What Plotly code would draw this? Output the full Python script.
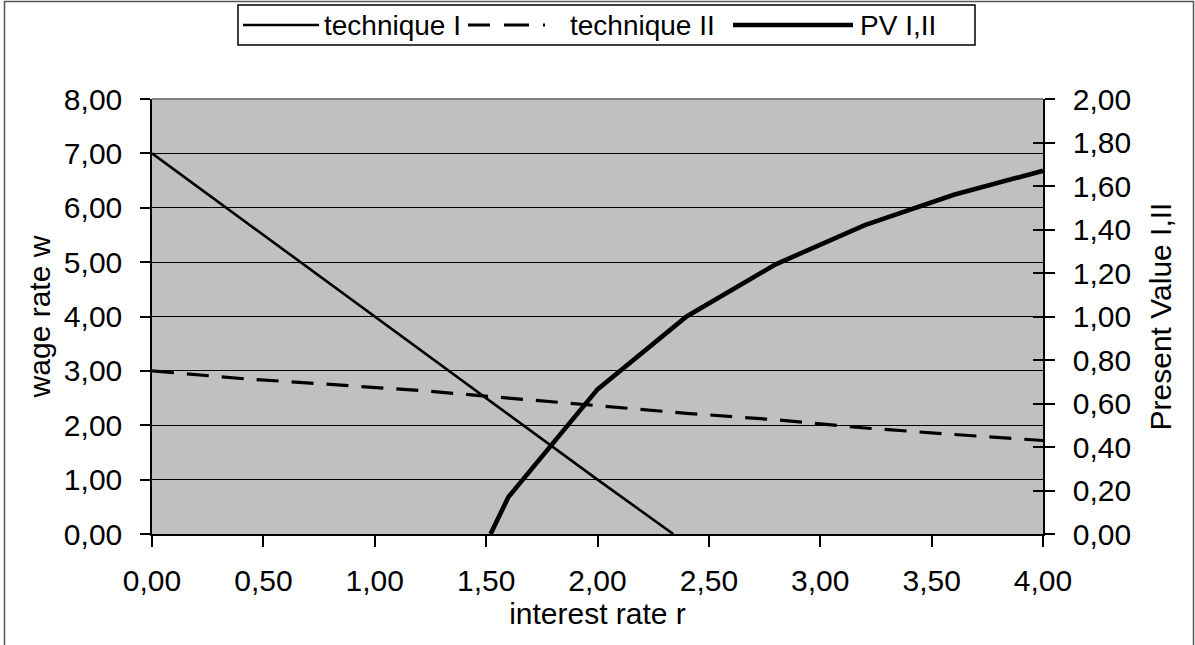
import plotly.graph_objects as go

# data
r_I = [0.0, 0.4, 0.8, 1.2, 1.6, 2.0, 2.34]
w_I = [7.0, 5.8, 4.6, 3.4, 2.2, 1.0, 0.0]

r_II = [0.0, 0.4, 0.8, 1.2, 1.6, 2.0, 2.4, 2.8, 3.2, 3.6, 4.0]
w_II = [3.0, 2.86, 2.75, 2.64, 2.5, 2.36, 2.22, 2.1, 1.95, 1.83, 1.72]

r_PV = [1.52, 1.6, 2.0, 2.4, 2.8, 3.2, 3.6, 4.0]
pv = [0.0, 0.17, 0.665, 1.0, 1.24, 1.42, 1.56, 1.67]

series_names = ["technique I", "technique II", "PV I,II"]

FONT = "Liberation Sans, Arial, sans-serif"
FS = 30
LEG_FS = 28
DASH = "22px,13px"
WIDTHS = [2.6, 3.2, 4.6]

fig = go.Figure()
fig.add_trace(go.Scatter(x=r_I, y=w_I, mode="lines", name=series_names[0],
                         line=dict(color="black", width=WIDTHS[0])))
fig.add_trace(go.Scatter(x=r_II, y=w_II, mode="lines", name=series_names[1],
                         line=dict(color="black", width=WIDTHS[1], dash=DASH)))
fig.add_trace(go.Scatter(x=r_PV, y=pv, mode="lines", name=series_names[2], yaxis="y2",
                         line=dict(color="black", width=WIDTHS[2])))

W, H = 1195, 645
L, R, T, B = 152, 152, 99, 111
pw, ph = W - L - R, H - T - B


def px(x):
    return (x - L) / pw


def py(y):
    return (H - B - y) / ph


# legend drawn by hand (Excel-style long samples)
leg_y = 25
leg_samples = [(243, 319, "solid"), (468, 556, "22px,14px,25px,14px,2px,100px"), (733, 853, "solid")]
leg_text_x = [322, 568, 858]

shapes = [
    dict(type="rect", xref="paper", yref="paper",
         x0=px(4.5), x1=px(1193.5), y0=py(660), y1=py(1.5),
         line=dict(color="#555555", width=1.5), fillcolor="rgba(0,0,0,0)", layer="below"),
    dict(type="line", xref="paper", yref="paper", x0=0, x1=1, y0=1, y1=1,
         line=dict(color="#808080", width=2)),
    dict(type="rect", xref="paper", yref="paper",
         x0=px(238), x1=px(975), y0=py(45), y1=py(5),
         line=dict(color="black", width=1.5), fillcolor="white"),
]
annotations = []
for (x0, x1, d), wdt, tx, name in zip(leg_samples, WIDTHS, leg_text_x, series_names):
    shapes.append(dict(type="line", xref="paper", yref="paper",
                       x0=px(x0), x1=px(x1), y0=py(leg_y), y1=py(leg_y),
                       line=dict(color="black", width=wdt, dash=d)))
    annotations.append(dict(text=name, xref="paper", yref="paper", x=px(tx), y=py(leg_y + 1),
                            xanchor="left", yanchor="middle", showarrow=False,
                            font=dict(size=LEG_FS, family=FONT, color="black")))

fig.update_layout(
    width=W, height=H,
    margin=dict(l=L, r=R, t=T, b=B, pad=0),
    paper_bgcolor="white", plot_bgcolor="#C0C0C0",
    separators=",.",
    font=dict(family=FONT, size=FS, color="black"),
    showlegend=False,
    xaxis=dict(range=[0, 4], dtick=0.5, tickformat=".2f", showgrid=False,
               zeroline=False, showline=True, linecolor="black", linewidth=1.5,
               ticks="outside", ticklen=11, tickcolor="black", tickwidth=1.5,
               ticklabelstandoff=8,
               title=dict(text="interest rate r", standoff=4, font=dict(size=FS))),
    yaxis=dict(range=[0, 8], dtick=1, tickformat=".2f", showgrid=True,
               gridcolor="black", gridwidth=1.2, zeroline=False,
               showline=True, linecolor="black", linewidth=1.5,
               ticks="outside", ticklen=10, tickcolor="black", tickwidth=1.5,
               ticklabelstandoff=12,
               title=dict(text="wage rate w", standoff=4, font=dict(size=FS))),
    yaxis2=dict(range=[0, 2], dtick=0.2, tickformat=".2f", overlaying="y", side="right",
                showgrid=False, zeroline=False, showline=True, linecolor="black", linewidth=1.5,
                ticks="outside", ticklen=10, tickcolor="black", tickwidth=1.5,
                ticklabelstandoff=12,
                title=dict(text="Present Value I,II", standoff=20, font=dict(size=FS))),
    yaxis3=dict(range=[0, 2], dtick=0.2, overlaying="y", side="right", anchor="x",
                showgrid=False, zeroline=False, showline=False, showticklabels=False,
                ticks="inside", ticklen=10, tickcolor="black", tickwidth=1.5),
    shapes=shapes,
    annotations=annotations,
)
# invisible trace to activate yaxis3 (inner half of the crossing ticks)
fig.add_trace(go.Scatter(x=[0], y=[0], yaxis="y3", mode="markers",
                         marker=dict(opacity=0), showlegend=False, hoverinfo="skip"))

fig.write_html("out.html", config={"displayModeBar": False},
               post_script="document.body.style.margin='0';document.body.style.overflow='hidden';")
